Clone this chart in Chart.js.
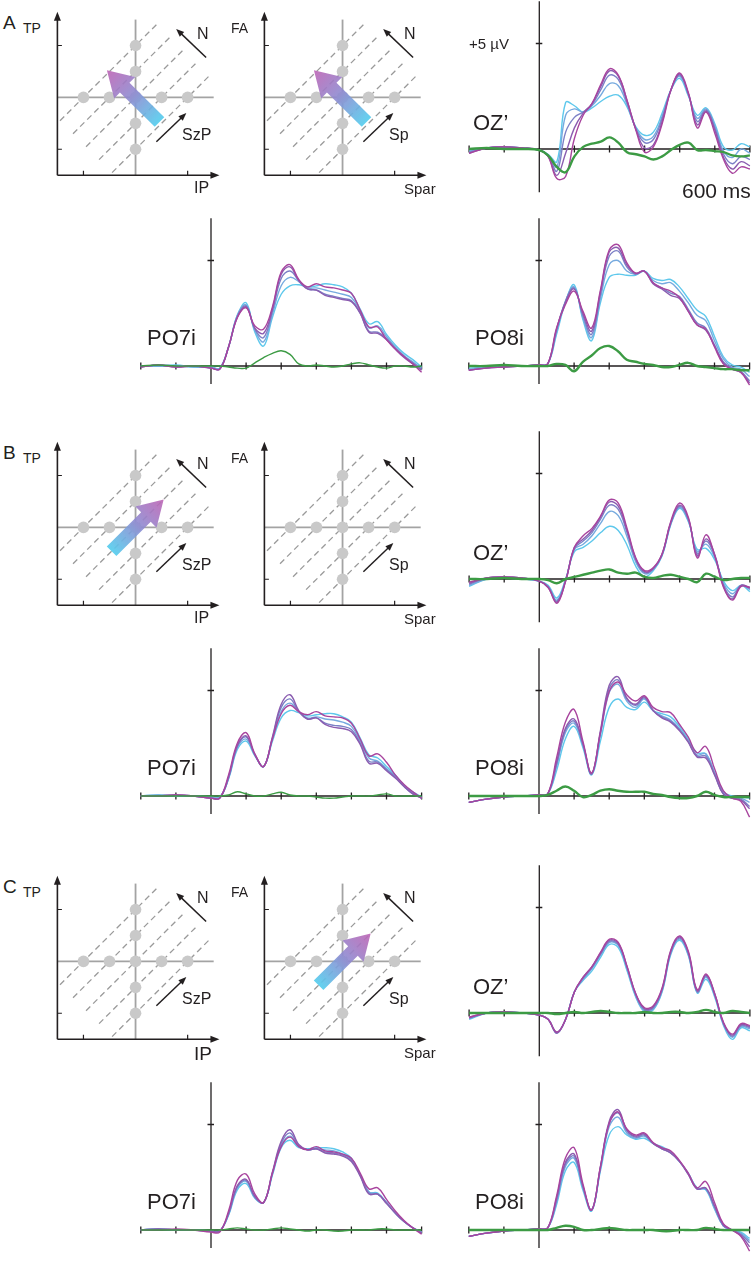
<!DOCTYPE html>
<html><head><meta charset="utf-8">
<script src="https://cdn.jsdelivr.net/npm/chart.js@4.4.1/dist/chart.umd.min.js"></script>
<style>
body{margin:0;background:#fff;width:755px;height:1274px;position:relative;overflow:hidden;font-family:"Liberation Sans",Arial,Helvetica,sans-serif;color:#231f20;}
canvas{position:absolute;}
.lbl{position:absolute;line-height:1;white-space:nowrap;color:#231f20;}
</style></head><body>
<script>
// ---------------- DATA ----------------
const T = [-200,-150,-100,-50,0,25,50,75,100,125,150,175,200,225,250,275,300,325,350,375,400,425,450,475,500,525,550,575,600];
const X_TICKS = [-200,-100,0,100,200,300,400,500,600];
const Y_TICK = 5;

// Panel A
const ozA_cy = [-0.1,0.05,0.1,0.05,-0.05,-0.25,-0.6,2.2,2.05,1.75,1.95,2.25,2.5,2.55,2.0,1.05,0.65,0.8,1.7,2.8,3.35,2.5,1.6,1.95,1.2,0.1,-0.05,0.25,0.1];
const ozA_c2 = [-0.1,0.05,0.1,0.05,-0.05,-0.3,-0.85,1.6,1.9,1.75,2.05,2.55,3.1,3.0,2.1,1.0,0.45,0.6,1.55,2.8,3.45,2.55,1.45,1.9,1.1,-0.1,-0.4,0.0,-0.2];
const ozA_c3 = [-0.15,0.05,0.1,0.05,-0.05,-0.3,-1.05,0.8,1.5,1.75,2.1,2.8,3.5,3.3,2.2,0.95,0.3,0.45,1.45,2.8,3.5,2.6,1.3,1.85,1.0,-0.25,-0.7,-0.35,-0.5];
const ozA_c4 = [-0.2,0.05,0.1,0.05,-0.05,-0.35,-1.25,-0.2,1.0,1.7,2.15,2.95,3.7,3.45,2.3,0.95,0.05,0.2,1.3,2.8,3.55,2.6,1.15,1.8,0.9,-0.4,-0.95,-0.6,-0.8];
const ozA_mg = [-0.2,0.05,0.1,0.05,-0.05,-0.35,-1.4,-1.3,0.5,1.6,2.15,3.05,3.8,3.5,2.3,0.9,-0.15,0.1,1.2,2.8,3.6,2.65,1.0,1.75,0.75,-0.5,-1.15,-0.85,-0.95];
const ozA_gr = [0,0.05,0,0,-0.05,-0.3,-0.85,-1.1,-0.35,0.1,0.25,0.35,0.55,0.3,-0.15,-0.25,-0.35,-0.5,-0.35,-0.05,0.2,0.3,-0.05,-0.05,-0.1,-0.15,-0.3,-0.35,-0.3];

const p7A_cy = [0.0,0.0,0.05,-0.05,-0.05,-0.1,0.9,2.4,3.0,1.6,0.95,2.3,3.4,3.8,3.85,3.75,3.8,3.9,3.85,3.75,3.45,2.7,2.0,2.1,1.5,1.0,0.6,0.3,-0.05];
const p7A_c2 = [0.0,0.0,0.0,-0.05,-0.05,-0.1,0.9,2.4,2.9,1.7,1.15,2.45,3.8,4.2,4.0,3.7,3.7,3.6,3.5,3.4,3.25,2.6,1.8,1.9,1.4,0.9,0.5,0.2,-0.1];
const p7A_c3 = [-0.05,0.05,0.0,0.0,-0.1,-0.15,0.9,2.35,2.85,1.75,1.35,2.6,4.15,4.5,4.05,3.65,3.6,3.4,3.3,3.2,3.1,2.5,1.65,1.6,1.3,0.85,0.45,0.15,-0.15];
const p7A_c4 = [-0.05,0.05,-0.05,0.0,-0.1,-0.15,0.9,2.3,2.8,1.8,1.55,2.7,4.35,4.7,4.05,3.65,3.6,3.35,3.25,3.15,3.05,2.5,1.6,1.55,1.25,0.8,0.4,0.1,-0.2];
const p7A_mg = [-0.05,0.05,-0.05,0.0,-0.1,-0.15,0.9,2.3,2.75,1.9,1.75,2.8,4.45,4.8,4.1,3.75,3.9,3.75,3.7,3.6,3.45,2.65,1.85,1.85,1.25,0.8,0.45,0.1,-0.3];
const p7A_gr = [0,0.05,0,0,0,0,-0.05,-0.1,-0.1,0.15,0.4,0.6,0.72,0.55,0.1,0,0.05,0,-0.05,0,0.1,0.15,0.05,-0.05,-0.1,0,0,-0.05,0];

const p8A_cy = [-0.1,-0.05,0.0,0.0,0.05,0.1,1.5,3.0,3.85,2.2,1.2,3.0,4.2,4.35,4.3,4.3,4.5,4.15,4.05,4.1,3.75,3.2,2.65,2.35,1.4,0.45,0.05,-0.05,-0.3];
const p8A_c2 = [-0.15,-0.05,0.0,0.0,0.05,0.1,1.6,3.05,3.75,2.3,1.35,3.2,4.8,5.0,4.5,4.35,4.5,4.05,3.9,3.95,3.55,3.0,2.4,2.15,1.2,0.35,-0.05,-0.15,-0.5];
const p8A_c3 = [-0.2,-0.1,-0.05,0.0,0.05,0.1,1.7,3.05,3.7,2.4,1.5,3.4,5.2,5.45,4.7,4.35,4.5,3.95,3.7,3.45,3.3,2.7,2.05,1.8,1.0,0.2,-0.1,-0.25,-0.7];
const p8A_c4 = [-0.2,-0.1,-0.05,0.0,0.05,0.1,1.75,3.0,3.65,2.5,1.65,3.5,5.4,5.6,4.8,4.4,4.5,3.9,3.65,3.35,3.2,2.6,1.95,1.7,0.95,0.15,-0.15,-0.3,-0.8];
const p8A_mg = [-0.2,-0.1,-0.05,0.0,0.05,0.1,1.8,2.9,3.55,2.6,1.8,3.6,5.5,5.75,4.9,4.4,4.5,3.95,3.7,3.55,3.25,2.6,1.95,1.75,0.9,0.1,-0.15,-0.3,-0.9];
const p8A_gr = [0,0,0.05,0,0,0,0.1,0.05,-0.25,0.2,0.5,0.85,0.95,0.7,0.3,0.2,0.1,0.05,-0.05,-0.05,0.05,0.15,0,-0.05,-0.1,-0.15,-0.15,-0.2,-0.2];

// Panel B
const ozB_cy = [-0.35,0.0,0.05,0.0,-0.1,-0.3,-0.9,0.0,1.3,1.5,1.8,2.2,2.5,2.3,1.6,0.6,0.1,0.4,1.1,2.6,3.35,2.7,1.4,1.45,0.9,-0.1,-0.55,-0.3,-0.6];
const ozB_c2 = [-0.3,0.0,0.05,0.0,-0.1,-0.35,-1.0,-0.05,1.4,1.65,2.05,2.65,3.2,3.0,2.0,0.8,0.25,0.45,1.15,2.65,3.4,2.75,1.3,1.65,1.0,-0.2,-0.7,-0.3,-0.5];
const ozB_c3 = [-0.25,0.05,0.1,0.05,-0.1,-0.35,-1.05,-0.05,1.45,1.8,2.2,2.85,3.5,3.3,2.2,0.9,0.3,0.5,1.15,2.65,3.45,2.8,1.2,1.8,1.1,-0.3,-0.85,-0.3,-0.45];
const ozB_c4 = [-0.2,0.05,0.1,0.05,-0.1,-0.4,-1.1,-0.1,1.5,1.9,2.3,2.95,3.65,3.45,2.3,0.95,0.35,0.5,1.2,2.7,3.5,2.85,1.1,1.9,1.15,-0.35,-0.95,-0.3,-0.4];
const ozB_mg = [-0.15,0.05,0.1,0.05,-0.1,-0.4,-1.15,-0.1,1.5,2.05,2.4,3.0,3.75,3.6,2.4,1.0,0.4,0.55,1.2,2.75,3.6,2.9,1.0,2.1,1.1,-0.4,-1.0,-0.35,-0.4];
const ozB_gr = [0,0,0.05,0,0,-0.05,-0.2,0.0,0.1,0.2,0.3,0.4,0.45,0.3,0.25,0.3,0.1,0.05,0.15,0.2,0.1,0.0,-0.15,0.25,0.1,-0.05,0,0.05,0.05];

const p7B_cy = [0.0,0.05,0.0,0.0,-0.05,-0.05,0.8,2.2,2.6,1.9,1.4,2.6,3.7,4.05,3.95,3.8,3.85,3.9,3.9,3.75,3.5,2.75,1.95,1.8,1.4,1.0,0.5,0.2,-0.05];
const p7B_c2 = [0.0,0.05,0.0,0.0,-0.05,-0.05,0.85,2.3,2.7,1.95,1.4,2.7,4.0,4.4,4.0,3.7,3.75,3.65,3.6,3.5,3.3,2.6,1.8,1.65,1.3,0.95,0.5,0.15,-0.1];
const p7B_c3 = [0.0,0.0,0.05,0.0,-0.1,-0.1,0.85,2.35,2.8,1.95,1.4,2.75,4.2,4.6,4.0,3.65,3.7,3.45,3.35,3.3,3.15,2.5,1.65,1.6,1.25,0.9,0.45,0.1,-0.1];
const p7B_c4 = [0.0,0.0,0.05,0.0,-0.1,-0.1,0.9,2.4,2.85,1.95,1.4,2.8,4.35,4.8,4.05,3.65,3.7,3.4,3.25,3.2,3.05,2.45,1.55,1.55,1.2,0.85,0.45,0.1,-0.1];
const p7B_mg = [0.0,0.0,0.05,0.0,-0.1,-0.1,1.0,2.5,3.0,2.0,1.4,2.7,3.9,4.3,4.0,3.85,4.0,3.8,3.75,3.7,3.45,2.7,1.9,2.0,1.6,1.0,0.55,0.2,-0.1];
const p7B_gr = [0,0,0,0,0,0,0.05,0.2,0.1,0,0,0.1,0.18,0.05,0,0,-0.05,-0.1,-0.1,-0.05,0,0,0,0.05,0.1,0,0,0,0];

const p8B_cy = [-0.3,-0.15,-0.05,0.0,0.05,0.1,1.2,2.7,3.3,2.3,1.0,2.6,4.2,4.6,4.2,4.1,4.45,4.05,3.9,3.75,3.3,2.7,2.05,2.0,1.1,0.2,0.0,-0.05,-0.1];
const p8B_c2 = [-0.3,-0.15,-0.05,0.0,0.05,0.1,1.4,3.0,3.45,2.4,1.05,2.9,4.9,5.3,4.5,4.2,4.6,4.05,3.8,3.6,3.2,2.6,1.95,2.0,1.1,0.15,-0.05,-0.1,-0.3];
const p8B_c3 = [-0.3,-0.15,-0.05,0.0,0.05,0.1,1.5,3.1,3.55,2.45,1.05,3.0,5.1,5.5,4.6,4.3,4.65,4.05,3.75,3.55,3.15,2.6,1.9,1.9,1.05,0.1,-0.1,-0.15,-0.5];
const p8B_c4 = [-0.3,-0.15,-0.05,0.0,0.05,0.1,1.6,3.2,3.65,2.5,1.05,3.1,5.25,5.65,4.65,4.35,4.7,4.05,3.7,3.5,3.1,2.55,1.85,1.8,1.0,0.1,-0.1,-0.2,-0.6];
const p8B_mg = [-0.3,-0.15,-0.05,0.0,0.05,0.1,1.8,3.5,4.1,2.6,1.1,3.0,4.95,5.4,4.8,4.5,4.75,4.2,4.0,3.95,3.4,2.8,2.05,2.35,1.3,0.25,-0.1,-0.25,-1.0];
const p8B_gr = [0,0,0,0,0,0.05,0.25,0.45,0.25,-0.05,0.05,0.25,0.32,0.25,0.2,0.2,0.2,0.1,0.05,-0.05,-0.1,-0.1,0.0,0.2,0.05,-0.05,-0.05,-0.05,-0.05];

// Panel C
const ozC_cy = [-0.3,0.0,0.05,0.0,-0.1,-0.3,-0.9,-0.3,1.0,1.55,2.0,2.65,3.25,3.1,2.0,0.75,0.05,0.15,1.0,2.8,3.45,2.7,0.95,1.6,0.75,-0.6,-1.25,-0.7,-0.85];
const ozC_c2 = [-0.25,0.0,0.05,0.0,-0.1,-0.3,-0.95,-0.3,1.0,1.6,2.1,2.75,3.35,3.2,2.1,0.8,0.1,0.2,1.05,2.85,3.5,2.75,1.0,1.7,0.8,-0.55,-1.15,-0.65,-0.75];
const ozC_c3 = [-0.25,0.0,0.05,0.0,-0.1,-0.3,-0.95,-0.3,1.0,1.65,2.15,2.8,3.4,3.25,2.15,0.85,0.15,0.25,1.1,2.9,3.55,2.8,1.0,1.75,0.85,-0.5,-1.1,-0.6,-0.7];
const ozC_c4 = [-0.2,0.0,0.05,0.0,-0.1,-0.3,-0.95,-0.3,1.0,1.7,2.2,2.85,3.45,3.3,2.2,0.9,0.2,0.3,1.15,2.95,3.6,2.85,1.05,1.8,0.9,-0.5,-1.05,-0.55,-0.65];
const ozC_mg = [-0.2,0.0,0.05,0.0,-0.1,-0.3,-0.9,-0.3,1.0,1.7,2.2,2.9,3.5,3.35,2.2,0.9,0.25,0.35,1.2,3.0,3.65,2.9,1.1,1.85,0.9,-0.45,-1.0,-0.5,-0.6];
const ozC_gr = [0,0,0,0,0,0,-0.05,0,0.05,0,0.05,0.1,0.05,0,0,0,0.05,0,0,0.05,0.05,0,0.05,0.15,0.05,0,0.1,0.05,0];

const p7C_cy = [0,0.05,0,0,-0.05,-0.05,0.7,1.9,2.2,1.5,1.3,2.6,3.9,4.25,3.9,3.85,3.9,3.9,3.85,3.7,3.4,2.6,1.8,1.75,1.3,0.8,0.4,0.1,-0.1];
const p7C_c2 = [0,0.05,0,0,-0.05,-0.05,0.75,2.0,2.3,1.55,1.3,2.65,4.0,4.45,3.95,3.8,3.85,3.8,3.75,3.6,3.35,2.6,1.8,1.7,1.3,0.8,0.4,0.1,-0.1];
const p7C_c3 = [0,0.05,0,0,-0.05,-0.05,0.75,2.05,2.35,1.55,1.3,2.7,4.1,4.6,4.0,3.8,3.85,3.7,3.65,3.55,3.3,2.6,1.75,1.7,1.3,0.8,0.4,0.1,-0.1];
const p7C_c4 = [0,0.05,0,0,-0.05,-0.05,0.8,2.1,2.4,1.6,1.3,2.75,4.2,4.75,4.05,3.8,3.85,3.65,3.6,3.5,3.25,2.55,1.7,1.7,1.25,0.8,0.4,0.1,-0.15];
const p7C_mg = [0,0,0.05,0,-0.1,-0.1,0.9,2.35,2.65,1.7,1.3,2.7,3.95,4.4,3.95,3.8,3.95,3.75,3.7,3.6,3.4,2.7,1.95,2.0,1.45,0.9,0.45,0.1,-0.2];
const p7C_gr = [0,0,0,0,0,0,0.05,0.1,0.05,0,0,0.05,0.1,0.05,0,-0.05,0,0,-0.05,-0.05,0,0,0,0.05,0.05,0,0,0,0];

const p8C_cy = [-0.3,-0.15,-0.05,0,0.05,0.1,1.2,2.8,3.2,1.9,0.9,2.8,4.5,4.9,4.5,4.3,4.35,4.1,3.95,3.7,3.25,2.7,2.0,1.9,1.0,0.2,0,-0.1,-0.4];
const p8C_c2 = [-0.3,-0.15,-0.05,0,0.05,0.1,1.3,3.0,3.4,2.0,0.95,2.9,4.9,5.35,4.6,4.35,4.45,4.1,3.9,3.7,3.25,2.7,2.0,1.95,1.05,0.2,0,-0.15,-0.5];
const p8C_c3 = [-0.3,-0.15,-0.05,0,0.05,0.1,1.4,3.1,3.5,2.05,0.95,2.95,5.05,5.55,4.7,4.4,4.5,4.1,3.85,3.65,3.25,2.65,1.95,1.95,1.1,0.2,0,-0.2,-0.6];
const p8C_c4 = [-0.3,-0.15,-0.05,0,0.05,0.1,1.5,3.2,3.6,2.1,0.95,3.0,5.15,5.7,4.75,4.45,4.55,4.1,3.85,3.65,3.25,2.65,1.95,2.0,1.15,0.25,0,-0.25,-0.8];
const p8C_mg = [-0.3,-0.15,-0.05,0,0.05,0.1,1.6,3.4,3.9,2.2,0.95,3.0,5.05,5.6,4.8,4.5,4.6,4.15,3.9,3.75,3.3,2.7,2.0,2.3,1.3,0.3,0,-0.3,-1.0];
const p8C_gr = [0,0,0,0,0,0,0.1,0.2,0.15,0,0,0.05,0.1,0.05,0,0,0,0,-0.05,-0.05,0,0,0,0.1,0.05,0,0,0,0];

// Diagram data (grid units)
const DOT_X = [0,0,0,0,0,-2,-1,1,2];
const DOT_Y = [2,1,0,-1,-2,0,0,0,0];
const DASH_X1 = [-2.9,-2.4,-1.9,-1.4,-0.9];
const DASH_Y1 = [-0.9,-1.4,-1.9,-2.4,-2.9];
const DASH_X2 = [0.9,1.4,1.9,2.4,2.9];
const DASH_Y2 = [2.9,2.4,1.9,1.4,0.9];
const GRID_V = [[0,-3],[0,3]];
const GRID_H = [[-3,0],[3,0]];
const DIAG_TICKS = [-2,2];
const N_ARROW = [[2.71,1.54],[1.56,2.64]];
const S_ARROW = [[0.80,-1.71],[1.95,-0.60]];
const ARROW_UPLEFT = [[0.92,-0.95],[-1.1,1.05]];
const ARROW_UPRIGHT = [[-0.92,-0.92],[1.08,1.08]];

// --------------- STYLE / LAYOUT ---------------
const LINE_COLORS = ['#5ec8ec','#76aadf','#7c80c6','#8b5cb0','#a8449e'];
const GREEN = '#3c9b44';
const INK = '#231f20';
const PX_MS = 0.351, PX_UV = 21.1, YMAX = 7.0;
const UNIT = 26.2;

function addLabel(text, left, top, size){
  const d=document.createElement('div'); d.className='lbl'; d.textContent=text;
  d.style.left=left+'px'; d.style.top=top+'px'; d.style.fontSize=size+'px';
  document.body.appendChild(d);
}
function mkCanvas(left, top, w, h){
  const c=document.createElement('canvas'); c.width=w; c.height=h;
  c.style.left=left+'px'; c.style.top=top+'px'; c.style.width=w+'px'; c.style.height=h+'px';
  document.body.appendChild(c); return c;
}

const erpAxes = {
  id:'erpAxes',
  beforeDatasetsDraw(chart){
    const {ctx, scales:{x,y}} = chart;
    ctx.save(); ctx.strokeStyle=INK; ctx.lineWidth=1.3;
    const X0=x.getPixelForValue(0), Y0=y.getPixelForValue(0);
    ctx.beginPath();
    ctx.moveTo(X0, y.getPixelForValue(y.max)); ctx.lineTo(X0, y.getPixelForValue(y.min));
    ctx.moveTo(x.getPixelForValue(X_TICKS[0]), Y0); ctx.lineTo(x.getPixelForValue(X_TICKS[X_TICKS.length-1]), Y0);
    X_TICKS.forEach(t=>{const px=x.getPixelForValue(t); ctx.moveTo(px,Y0-3.5); ctx.lineTo(px,Y0+3.5);});
    const py=y.getPixelForValue(Y_TICK); ctx.moveTo(X0-3.5,py); ctx.lineTo(X0+3,py);
    ctx.stroke(); ctx.restore();
  }
};

function erp(cfg, series, thickGreen){
  const c=mkCanvas(cfg.left,cfg.top,cfg.w,cfg.h);
  const ymin=cfg.ymin;
  const pl = cfg.x0 - 200*PX_MS - cfg.left;
  const pr = cfg.left + cfg.w - (cfg.x0 + 600*PX_MS);
  const pt = cfg.base - YMAX*PX_UV - cfg.top;
  const pb = cfg.top + cfg.h - (cfg.base - ymin*PX_UV);
  const pts = arr => T.map((t,i)=>({x:t,y:arr[i]}));
  const ds = [];
  ds.push({data:pts(series[5]), borderColor:GREEN, borderWidth: thickGreen?2.4:1.4});
  for(let k=4;k>=0;k--) ds.push({data:pts(series[k]), borderColor:LINE_COLORS[k], borderWidth:1.4});
  ds.forEach(d=>{d.pointRadius=0; d.tension=0.4; d.clip=false; d.fill=false;});
  new Chart(c,{type:'line',data:{datasets:ds},options:{
    responsive:false, animation:false, events:[],
    layout:{padding:{left:pl,right:pr,top:pt,bottom:pb}},
    plugins:{legend:{display:false},tooltip:{enabled:false}},
    scales:{x:{type:'linear',min:-200,max:600,display:false},y:{type:'linear',min:ymin,max:YMAX,display:false}}
  },plugins:[erpAxes]});
}

function headTri(ctx,x1,y1,x2,y2,len,hw){
  const dx=x2-x1, dy=y2-y1, L=Math.hypot(dx,dy), ux=dx/L, uy=dy/L;
  const bx=x2-ux*len, by=y2-uy*len;
  ctx.beginPath(); ctx.moveTo(x2,y2); ctx.lineTo(bx-uy*hw,by+ux*hw); ctx.lineTo(bx+uy*hw,by-ux*hw); ctx.closePath(); ctx.fill();
}
function thinArrow(ctx,x1,y1,x2,y2){
  const dx=x2-x1, dy=y2-y1, L=Math.hypot(dx,dy);
  ctx.beginPath(); ctx.moveTo(x1,y1); ctx.lineTo(x2-dx/L*5,y2-dy/L*5); ctx.stroke();
  headTri(ctx,x1,y1,x2,y2,8,3.2);
}
function bigArrow(ctx,x1,y1,x2,y2){
  const dx=x2-x1, dy=y2-y1, L=Math.hypot(dx,dy), ux=dx/L, uy=dy/L, nx=-uy, ny=ux;
  const hw=6.8, hh=15, hl=25;
  const bx=x2-ux*hl, by=y2-uy*hl;
  const g=ctx.createLinearGradient(x1,y1,x2,y2);
  g.addColorStop(0,'rgba(86,206,238,0.92)'); g.addColorStop(0.5,'rgba(140,140,210,0.9)'); g.addColorStop(1,'rgba(190,100,180,0.9)');
  ctx.fillStyle=g; ctx.beginPath();
  ctx.moveTo(x1+nx*hw,y1+ny*hw); ctx.lineTo(bx+nx*hw,by+ny*hw); ctx.lineTo(bx+nx*hh,by+ny*hh);
  ctx.lineTo(x2,y2); ctx.lineTo(bx-nx*hh,by-ny*hh); ctx.lineTo(bx-nx*hw,by-ny*hw); ctx.lineTo(x1-nx*hw,y1-ny*hw);
  ctx.closePath(); ctx.fill();
}

const diagDecor = {
  id:'diagDecor',
  afterDatasetsDraw(chart, args, opts){
    const {ctx, scales:{x,y}} = chart;
    const P=(u,v)=>[x.getPixelForValue(u), y.getPixelForValue(v)];
    ctx.save(); ctx.strokeStyle=INK; ctx.fillStyle=INK; ctx.lineWidth=1.6;
    const o=P(-3,-3), top=P(-3,3.3), right=P(3.22,-3);
    ctx.beginPath(); ctx.moveTo(o[0],o[1]); ctx.lineTo(top[0],top[1]+6); ctx.moveTo(o[0],o[1]); ctx.lineTo(right[0]-6,right[1]); ctx.stroke();
    headTri(ctx,o[0],o[1],top[0],top[1],9,3.5);
    headTri(ctx,o[0],o[1],right[0],right[1],9,3.5);
    ctx.lineWidth=1.2; ctx.beginPath();
    DIAG_TICKS.forEach(t=>{const a=P(-3,t); ctx.moveTo(a[0],a[1]); ctx.lineTo(a[0]+4.5,a[1]); const b=P(t,-3); ctx.moveTo(b[0],b[1]); ctx.lineTo(b[0],b[1]-4.5);});
    ctx.stroke();
    ctx.lineWidth=1.5;
    const n1=P(...N_ARROW[0]), n2=P(...N_ARROW[1]); thinArrow(ctx,n1[0],n1[1],n2[0],n2[1]);
    const s1=P(...S_ARROW[0]), s2=P(...S_ARROW[1]); thinArrow(ctx,s1[0],s1[1],s2[0],s2[1]);
    if(opts.arrow){const a=P(...opts.arrow[0]), b=P(...opts.arrow[1]); bigArrow(ctx,a[0],a[1],b[0],b[1]);}
    ctx.restore();
  }
};

function diagram(cx, cy, arrow){
  const left=cx-85, top=cy-92, w=175, h=175;
  const c=mkCanvas(left,top,w,h);
  const pl=(cx-3*UNIT)-left, pr=(left+w)-(cx+3.25*UNIT), pt=(cy-3.3*UNIT)-top, pb=(top+h)-(cy+3*UNIT);
  const ds=[];
  ds.push({type:'scatter',data:DOT_X.map((v,i)=>({x:v,y:DOT_Y[i]})),pointRadius:5.8,pointBackgroundColor:'#c9c9c9',pointBorderWidth:0,showLine:false});
  ds.push({type:'line',data:GRID_V.map(p=>({x:p[0],y:p[1]})),borderColor:'#a3a3a3',borderWidth:1.8,pointRadius:0});
  ds.push({type:'line',data:GRID_H.map(p=>({x:p[0],y:p[1]})),borderColor:'#a3a3a3',borderWidth:1.8,pointRadius:0});
  for(let i=0;i<DASH_X1.length;i++) ds.push({type:'line',data:[{x:DASH_X1[i],y:DASH_Y1[i]},{x:DASH_X2[i],y:DASH_Y2[i]}],borderColor:'#9a9a9a',borderWidth:1.3,borderDash:[6,4],pointRadius:0});
  ds.forEach(d=>{d.clip=false;});
  new Chart(c,{type:'scatter',data:{datasets:ds},options:{
    responsive:false, animation:false, events:[],
    layout:{padding:{left:pl,right:pr,top:pt,bottom:pb}},
    plugins:{legend:{display:false},tooltip:{enabled:false},diagDecor:{arrow:arrow}},
    scales:{x:{type:'linear',min:-3,max:3.25,display:false},y:{type:'linear',min:-3,max:3.3,display:false}}
  },plugins:[diagDecor]});
}

// --------------- BUILD ---------------
const PANELS = [
  {dy:0,   letter:'A', ipSize:16, arrow1:ARROW_UPLEFT, arrow2:ARROW_UPLEFT,
   oz:[ozA_cy,ozA_c2,ozA_c3,ozA_c4,ozA_mg,ozA_gr], p7:[p7A_cy,p7A_c2,p7A_c3,p7A_c4,p7A_mg,p7A_gr], p8:[p8A_cy,p8A_c2,p8A_c3,p8A_c4,p8A_mg,p8A_gr]},
  {dy:430, letter:'B', ipSize:16, arrow1:ARROW_UPRIGHT, arrow2:null,
   oz:[ozB_cy,ozB_c2,ozB_c3,ozB_c4,ozB_mg,ozB_gr], p7:[p7B_cy,p7B_c2,p7B_c3,p7B_c4,p7B_mg,p7B_gr], p8:[p8B_cy,p8B_c2,p8B_c3,p8B_c4,p8B_mg,p8B_gr]},
  {dy:864, letter:'C', ipSize:19, arrow1:null, arrow2:ARROW_UPRIGHT,
   oz:[ozC_cy,ozC_c2,ozC_c3,ozC_c4,ozC_mg,ozC_gr], p7:[p7C_cy,p7C_c2,p7C_c3,p7C_c4,p7C_mg,p7C_gr], p8:[p8C_cy,p8C_c2,p8C_c3,p8C_c4,p8C_mg,p8C_gr]}
];

PANELS.forEach(p=>{
  const dy=p.dy;
  diagram(136, 98.3+dy, p.arrow1);
  diagram(342.7, 98.3+dy, p.arrow2);
  erp({left:455, top:dy, w:300, h:200, x0:539.3, base:149+dy, ymin:-2.05}, p.oz, true);
  erp({left:128, top:212+dy, w:302, h:180, x0:211, base:366+dy, ymin:-0.85}, p.p7, false);
  erp({left:455, top:212+dy, w:300, h:180, x0:539, base:366+dy, ymin:-0.85}, p.p8, true);
  addLabel(p.letter, 3, 12.5+dy, 19);
  addLabel('TP', 23, 21+dy, 14);
  addLabel('IP', 194, 180+dy, p.ipSize);
  addLabel('N', 197, 26+dy, 16);
  addLabel('SzP', 182, 127+dy, 16);
  addLabel('FA', 231, 21+dy, 14);
  addLabel('Spar', 404, 181+dy, 15);
  addLabel('N', 404, 26+dy, 16);
  addLabel('Sp', 389, 127+dy, 16);
  addLabel('OZ\u2019', 473, 112+dy, 22);
  addLabel('PO7i', 147, 327+dy, 22);
  addLabel('PO8i', 475, 327+dy, 22);
});
addLabel('+5 \u00b5V', 469, 36, 15);
addLabel('600 ms', 682, 180, 21);
</script>
</body></html>
